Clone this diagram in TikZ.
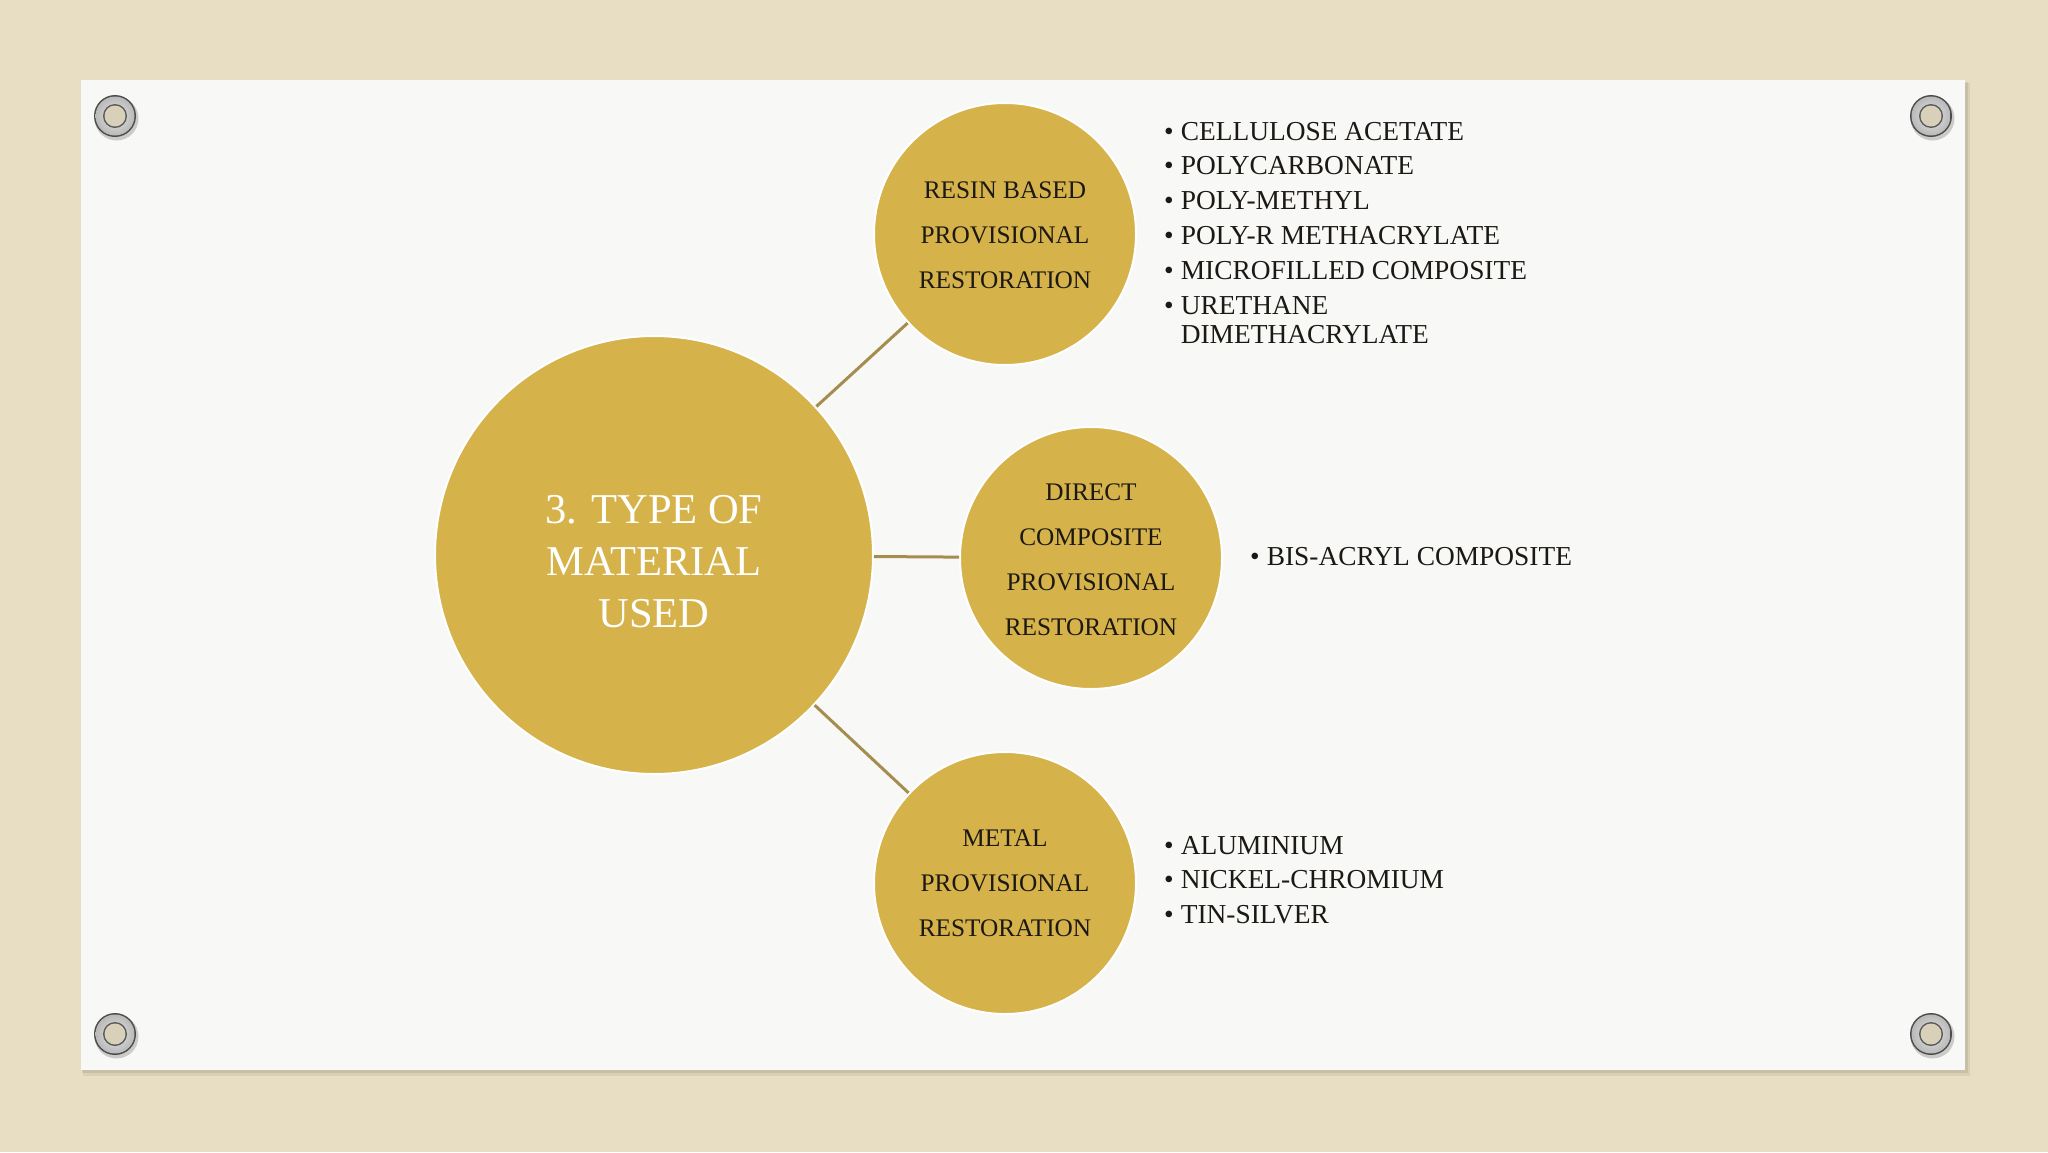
\documentclass[tikz,border=0pt]{standalone}
\usepackage{fontspec}
\setmainfont{Liberation Serif}
\definecolor{canvas}{HTML}{E8DEC3}
\definecolor{board}{HTML}{F8F8F7}
\definecolor{gold}{HTML}{D5B24A}
\definecolor{linkc}{HTML}{A58D50}
\definecolor{txt}{HTML}{1C1914}
\begin{document}
\begin{tikzpicture}[x=1pt,y=-1pt,
  bigc/.style={circle,fill=gold,draw=white,line width=2pt,minimum size=438pt,inner sep=0pt},
  bigtext/.style={text=white,align=center,font=\fontsize{42.5}{52}\selectfont,inner sep=0pt},
  smallc/.style={circle,fill=gold,draw=white,line width=2pt,minimum size=262pt,inner sep=0pt},
  smalltext/.style={text=txt,align=center,font=\fontsize{25.3}{45}\selectfont,inner sep=0pt},
  link/.style={draw=linkc,line width=3pt},
  blist/.style={anchor=base west,inner sep=0pt,text=txt,font=\fontsize{27.4}{29}\selectfont}]
\useasboundingbox (0,0) rectangle (2048,1152);
% canvas background
\fill[canvas] (0,0) rectangle (2048,1152);
% board shadow
\fill[black,opacity=0.06] (83,83) rectangle (1970,1076);
\fill[black,opacity=0.08] (82,82) rectangle (1968,1073);
\fill[board] (81,80) rectangle (1965,1070);
% grommets
\foreach \gx/\gy in {115/116,1931/116,115/1034,1931/1034}{
  \fill[black,opacity=0.18] (\gx+1.5,\gy+2.5) circle (22);
  \fill[gray!60!black] (\gx,\gy) circle (21);
  \shade[inner color=gray!20,outer color=gray!55] (\gx,\gy) circle (19.5);
  \fill[gray!70!black] (\gx,\gy) circle (12);
  \fill[canvas!85!gray] (\gx,\gy) circle (10.5);
}
% circles
\node[bigc] (main) at (654,555) {};
\node[bigtext] (maintext) at (654,562) {3. TYPE OF\\MATERIAL\\USED};
\node[smallc] (resin) at (1005,234) {};
\node[smalltext] (resintext) at (1005,235) {RESIN BASED\\PROVISIONAL\\RESTORATION};
\node[smallc] (direct) at (1091,558) {};
\node[smalltext] (directtext) at (1091,560) {DIRECT\\COMPOSITE\\PROVISIONAL\\RESTORATION};
\node[smallc] (metal) at (1005,883) {};
\node[smalltext] (metaltext) at (1005,883) {METAL\\PROVISIONAL\\RESTORATION};
% connectors
\draw[link] (main) -- (resin);
\draw[link] (main) -- (direct);
\draw[link] (main) -- (metal);
% lists
\node[blist] (resinlist) at (1164,140) {\begin{tabular}[t]{@{}l@{\hspace{7pt}}l@{}}
\textbullet & CELLULOSE ACETATE\\[5.8pt]
\textbullet & POLYCARBONATE\\[5.8pt]
\textbullet & POLY-METHYL\\[5.8pt]
\textbullet & POLY-R METHACRYLATE\\[5.8pt]
\textbullet & MICROFILLED COMPOSITE\\[5.8pt]
\textbullet & URETHANE\\
 & DIMETHACRYLATE
\end{tabular}};
\node[blist] (directlist) at (1250,565) {\begin{tabular}[t]{@{}l@{\hspace{7pt}}l@{}}
\textbullet & BIS-ACRYL COMPOSITE
\end{tabular}};
\node[blist] (metallist) at (1164,854) {\begin{tabular}[t]{@{}l@{\hspace{7pt}}l@{}}
\textbullet & ALUMINIUM\\[5.8pt]
\textbullet & NICKEL-CHROMIUM\\[5.8pt]
\textbullet & TIN-SILVER
\end{tabular}};
\end{tikzpicture}
\end{document}
